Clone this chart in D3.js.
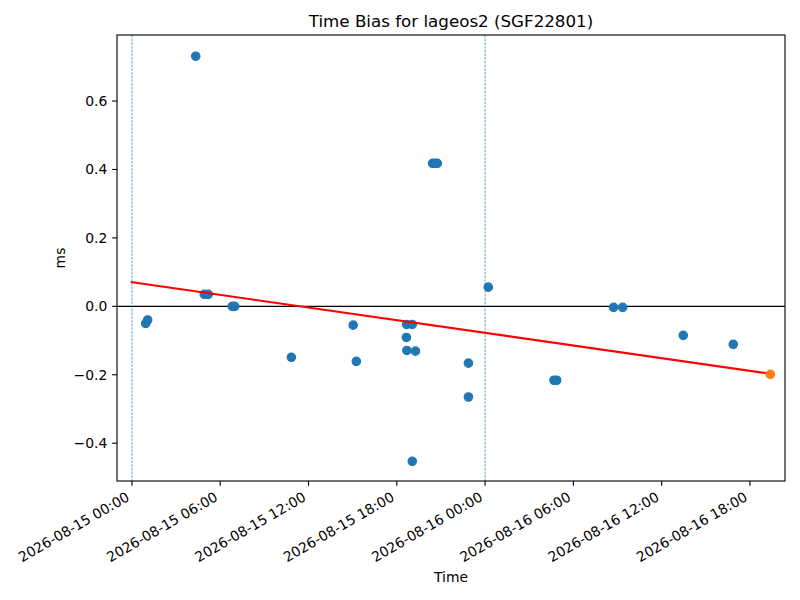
<!DOCTYPE html>
<html>
<head>
<meta charset="utf-8">
<script src="https://cdn.jsdelivr.net/npm/d3@7"></script>
<style>
  body { margin: 0; background: #fff; }
  svg text { font-family: "DejaVu Sans", sans-serif; fill: #000; }
</style>
</head>
<body>
<div id="chart"></div>
<script>
// Time bias residuals (ms) per pass
const passTimes = [
  "2026-08-15 00:56", "2026-08-15 01:04", "2026-08-15 04:20", "2026-08-15 04:55",
  "2026-08-15 05:11", "2026-08-15 06:49", "2026-08-15 06:59", "2026-08-15 10:50",
  "2026-08-15 15:02", "2026-08-15 15:15", "2026-08-15 18:39", "2026-08-15 18:40",
  "2026-08-15 18:41", "2026-08-15 19:03", "2026-08-15 19:03", "2026-08-15 19:16",
  "2026-08-15 20:26", "2026-08-15 20:36", "2026-08-15 20:45", "2026-08-15 22:52",
  "2026-08-15 22:52", "2026-08-16 00:13", "2026-08-16 04:41", "2026-08-16 04:52",
  "2026-08-16 08:44", "2026-08-16 09:21", "2026-08-16 13:28", "2026-08-16 16:52"
];
const biasMs = [
  -0.050, -0.040, 0.731, 0.035,
  0.035, 0.000, 0.000, -0.149,
  -0.055, -0.161, -0.091, -0.053,
  -0.129, -0.053, -0.453, -0.131,
  0.418, 0.418, 0.418, -0.166,
  -0.265, 0.056, -0.216, -0.216,
  -0.003, -0.003, -0.085, -0.111
];

// linear fit and predicted point
const fitTimes = ["2026-08-14 23:55", "2026-08-16 19:23"];
const fitValues = [0.071, -0.197];
const predTime = "2026-08-16 19:23";
const predValue = -0.199;

// day boundaries
const dayLines = ["2026-08-15 00:00", "2026-08-16 00:00"];

const xTickTimes = [
  "2026-08-15 00:00", "2026-08-15 06:00", "2026-08-15 12:00", "2026-08-15 18:00",
  "2026-08-16 00:00", "2026-08-16 06:00", "2026-08-16 12:00", "2026-08-16 18:00"
];
const yTicks = [-0.4, -0.2, 0.0, 0.2, 0.4, 0.6];

const xDomain = ["2026-08-14 22:59", "2026-08-16 20:23"];
const yDomain = [-0.5105, 0.793];

const width = 800, height = 600;
const margin = { top: 35, right: 15, bottom: 119, left: 117 };
const pt = 100 / 72;

const parse = d3.utcParse("%Y-%m-%d %H:%M");
const fmt = d3.utcFormat("%Y-%m-%d %H:%M");

const svg = d3.select("#chart").append("svg")
  .attr("width", width)
  .attr("height", height);

const x = d3.scaleUtc()
  .domain(xDomain.map(parse))
  .range([margin.left, width - margin.right]);

const y = d3.scaleLinear()
  .domain(yDomain)
  .range([height - margin.bottom, margin.top]);

const x0 = margin.left, x1 = width - margin.right;
const y0 = height - margin.bottom, y1 = margin.top;

// clip for plot area
svg.append("clipPath").attr("id", "plotclip")
  .append("rect")
  .attr("x", x0).attr("y", y1)
  .attr("width", x1 - x0).attr("height", y0 - y1);

const plot = svg.append("g").attr("clip-path", "url(#plotclip)");

// zero line
plot.append("line")
  .attr("x1", x0).attr("x2", x1)
  .attr("y1", y(0)).attr("y2", y(0))
  .attr("stroke", "#000")
  .attr("stroke-width", 0.8 * pt);

// day boundary lines
plot.selectAll(".day")
  .data(dayLines)
  .enter()
  .append("line")
  .attr("class", "day")
  .attr("x1", d => x(parse(d))).attr("x2", d => x(parse(d)))
  .attr("y1", y1).attr("y2", y0)
  .attr("stroke", "#1f77b4")
  .attr("stroke-width", 0.5 * pt)
  .attr("stroke-dasharray", "2.6,1.1");

// residual points
const points = passTimes.map((t, i) => ({ t: parse(t), v: biasMs[i] }));
plot.selectAll(".pt")
  .data(points)
  .enter()
  .append("circle")
  .attr("class", "pt")
  .attr("cx", d => x(d.t))
  .attr("cy", d => y(d.v))
  .attr("r", 4.2)
  .attr("fill", "#1f77b4")
  .attr("stroke", "#1f77b4")
  .attr("stroke-width", 1.2);

// fit line
const fit = fitTimes.map((t, i) => ({ t: parse(t), v: fitValues[i] }));
plot.append("path")
  .datum(fit)
  .attr("fill", "none")
  .attr("stroke", "#ff0000")
  .attr("stroke-width", 1.5 * pt)
  .attr("d", d3.line().x(d => x(d.t)).y(d => y(d.v)));

// prediction point
plot.append("circle")
  .attr("cx", x(parse(predTime)))
  .attr("cy", y(predValue))
  .attr("r", 4.2)
  .attr("fill", "#ff7f0e")
  .attr("stroke", "#ff7f0e")
  .attr("stroke-width", 1.2);

// spines
svg.append("rect")
  .attr("x", x0).attr("y", y1)
  .attr("width", x1 - x0).attr("height", y0 - y1)
  .attr("fill", "none")
  .attr("stroke", "#000")
  .attr("stroke-width", 0.8 * pt);

const tickLen = 3.5 * pt, tickPad = 3.5 * pt;

// y axis
const yAxis = svg.append("g");
yAxis.selectAll("line")
  .data(yTicks)
  .enter()
  .append("line")
  .attr("x1", x0 - tickLen).attr("x2", x0)
  .attr("y1", d => y(d)).attr("y2", d => y(d))
  .attr("stroke", "#000")
  .attr("stroke-width", 0.8 * pt);
yAxis.selectAll("text")
  .data(yTicks)
  .enter()
  .append("text")
  .attr("x", x0 - tickLen - tickPad)
  .attr("y", d => y(d))
  .attr("dy", "0.36em")
  .attr("text-anchor", "end")
  .style("font-size", "13.9px")
  .text(d => d3.format(".1f")(d).replace("-", "\u2212"));

// x axis
const xAxis = svg.append("g");
xAxis.selectAll("line")
  .data(xTickTimes)
  .enter()
  .append("line")
  .attr("x1", d => x(parse(d))).attr("x2", d => x(parse(d)))
  .attr("y1", y0).attr("y2", y0 + tickLen)
  .attr("stroke", "#000")
  .attr("stroke-width", 0.8 * pt);
xAxis.selectAll("text")
  .data(xTickTimes)
  .enter()
  .append("text")
  .attr("transform", d => `translate(${x(parse(d)) - 1.5},${y0 + tickLen + tickPad + 9.2}) rotate(-30)`)
  .attr("text-anchor", "end")
  .style("font-size", "13.9px")
  .text(d => fmt(parse(d)));

// labels
svg.append("text")
  .attr("x", (x0 + x1) / 2)
  .attr("y", y1 - 8.3)
  .attr("text-anchor", "middle")
  .style("font-size", "16.7px")
  .text("Time Bias for lageos2 (SGF22801)");

svg.append("text")
  .attr("x", (x0 + x1) / 2)
  .attr("y", 582)
  .attr("text-anchor", "middle")
  .style("font-size", "13.9px")
  .text("Time");

svg.append("text")
  .attr("transform", `translate(65,${(y0 + y1) / 2}) rotate(-90)`)
  .attr("text-anchor", "middle")
  .style("font-size", "13.9px")
  .text("ms");
</script>
</body>
</html>
